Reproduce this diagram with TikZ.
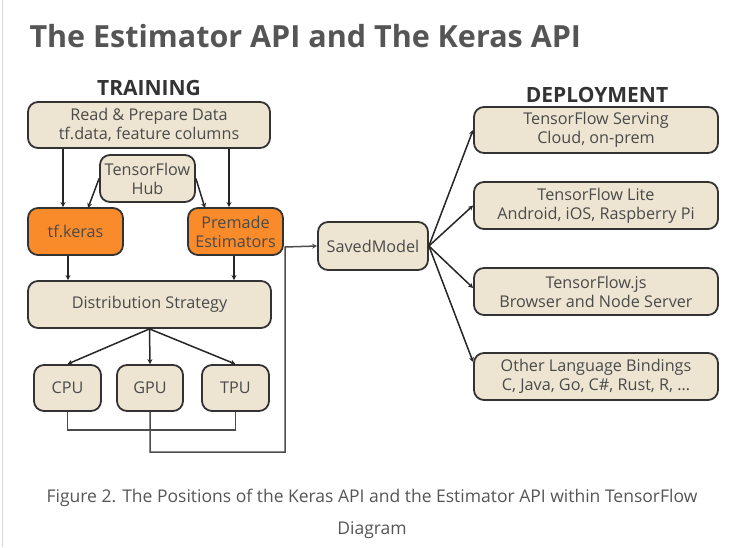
\documentclass[tikz,border=0pt]{standalone}
\usepackage{fontspec}
\setmainfont{Open Sans}
\usetikzlibrary{arrows.meta}
\definecolor{boxfill}{HTML}{EDE5D2}
\definecolor{orng}{HTML}{F98B2B}
\definecolor{txt}{HTML}{4A4A4A}
\definecolor{ttl}{HTML}{555555}
\begin{document}
\begin{tikzpicture}[x=1pt,y=-1pt,
  bx/.style={draw=black!80,line width=1.8pt,rounded corners=10pt,fill=boxfill,inner sep=0pt,
    text=txt,font=\fontsize{16.2}{19}\selectfont,align=center},
  ob/.style={bx,fill=orng},
  ar/.style={-{Stealth[length=5pt,width=5pt]},line width=1.5pt,draw=black!85},
  ln/.style={line width=1.5pt,draw=black!70}]
\useasboundingbox (0,0) rectangle (737,547);
\draw[black!15,line width=1pt] (2,0) -- (2,547);
\node[anchor=west,text=ttl,font=\bfseries\fontsize{30.5}{33}\selectfont] (title) at (26,36) {The Estimator API and The Keras API};
\node[font=\bfseries\fontsize{21}{23}\selectfont,text=black!80] (tr) at (149,88) {TRAINING};
\node[font=\bfseries\fontsize{21}{23}\selectfont,text=black!80] (dp) at (597,95) {DEPLOYMENT};
\node[bx,minimum width=242pt,minimum height=46pt] (read) at (149,125) {Read \& Prepare Data\\tf.data, feature columns};
\node[bx,minimum width=95pt,minimum height=47pt] (hub) at (147.5,178.5) {TensorFlow\\Hub};
\node[ob,minimum width=95pt,minimum height=47pt] (keras) at (75.5,231.5) {tf.keras};
\node[ob,minimum width=95pt,minimum height=47pt] (pre) at (235.5,231.5) {Premade\\Estimators};
\node[bx,minimum width=243pt,minimum height=47pt] (dist) at (149.5,304.5) {Distribution Strategy};
\node[bx,minimum width=67pt,minimum height=46pt] (cpu) at (67.5,388) {CPU};
\node[bx,minimum width=66pt,minimum height=46pt] (gpu) at (150,388) {GPU};
\node[bx,minimum width=67pt,minimum height=46pt] (tpu) at (235.5,388) {TPU};
\node[bx,minimum width=110pt,minimum height=48pt] (sm) at (373,246) {SavedModel};
\node[bx,minimum width=244pt,minimum height=46pt] (d1) at (596,130) {TensorFlow Serving\\Cloud, on-prem};
\node[bx,minimum width=244pt,minimum height=47pt] (d2) at (596,205.5) {TensorFlow Lite\\Android, iOS, Raspberry Pi};
\node[bx,minimum width=244pt,minimum height=47pt] (d3) at (596,291.5) {TensorFlow.js\\Browser and Node Server};
\node[bx,minimum width=244pt,minimum height=47pt] (d4) at (596,376.5) {Other Language Bindings\\C, Java, Go, C\#, Rust, R, …};
\draw[ar] (read.south -| 63,0) -- (keras.north -| 63,0);
\draw[ar] (read.south -| 229,0) -- (pre.north -| 229,0);
\draw[ar] (hub.west) -- (88,208);
\draw[ar] (hub.east) -- (205,208);
\draw[ar] (keras.south -| 68,0) -- (dist.north -| 68,0);
\draw[ar] (pre.south -| 234,0) -- (dist.north -| 234,0);
\coordinate (ds) at (dist.south);
\draw[ar] (ds) -- (cpu.north);
\draw[ar] (ds) -- (gpu.north);
\draw[ar] (ds) -- (tpu.north);
\draw[ln] (cpu.south) -- (67.5,430) -- (235.5,430) -- (tpu.south);
\draw[ar,draw=black!70] (gpu.south) -- (150,452) -- (285,452) -- (285,247) -- (sm.west);
\coordinate (se) at (sm.east);
\draw[ar] (se) -- (d1.west);
\draw[ar] (se) -- (d2.west);
\draw[ar] (se) -- (d3.west |- 0,288);
\draw[ar] (se) -- (d4.west |- 0,362);
\node[text=ttl,font=\fontsize{17.5}{20}\selectfont] (cap1) at (372,498) {Figure 2. The Positions of the Keras API and the Estimator API within TensorFlow};
\node[text=ttl,font=\fontsize{17.5}{20}\selectfont] (cap2) at (372,530) {Diagram};
\end{tikzpicture}
\end{document}
